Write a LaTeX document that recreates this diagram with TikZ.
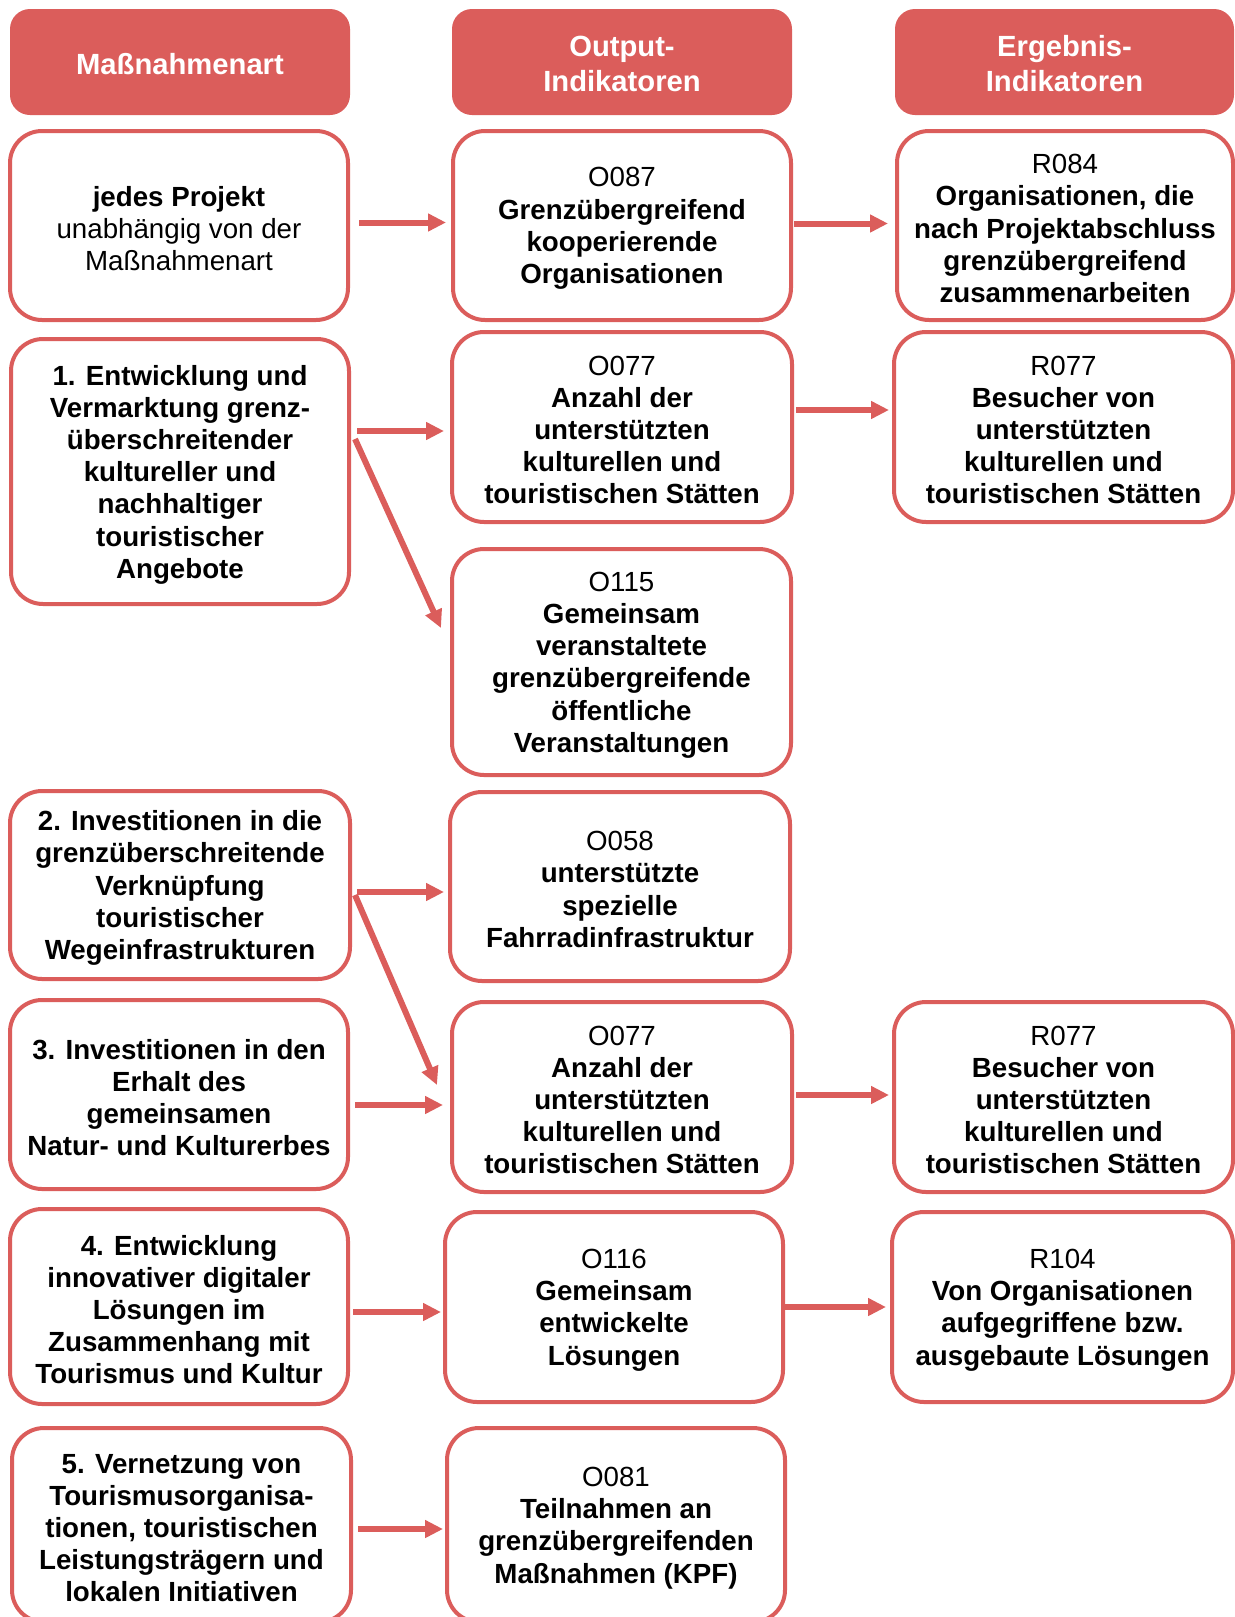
\documentclass[tikz,border=0pt]{standalone}
\usepackage{fontspec}
\setmainfont{Liberation Sans}
\usetikzlibrary{arrows.meta,calc}
\definecolor{rd}{RGB}{219,93,91}
\newcommand\mkbox[8]{\node[#1, minimum width={(#5-#3)*0.5pt}, minimum height={(#6-#4)*0.5pt}] (#2) at ({(#3+#5)/2},{(#4+#6)/2}) {};
\node[#1txt] (#2t) at ($(#2.center)+(0,#8)$) {#7};}
\begin{document}
\begin{tikzpicture}[x=0.5pt,y=-0.5pt,
 box/.style={draw=rd, line width=2pt, rounded corners=16pt, fill=white, inner sep=0pt},
 boxtxt/.style={align=center, inner sep=0pt, font=\fontsize{13.85}{16.1}\selectfont\bfseries, text=black},
 hdr/.style={fill=rd, rounded corners=10pt, inner sep=0pt},
 hdrtxt/.style={align=center, inner sep=0pt, text=white, font=\fontsize{14.6}{17.5}\selectfont\bfseries},
 arr/.style={draw=rd, line width=3pt, -{Triangle[length=9pt,width=8.5pt]}}]
\useasboundingbox (0,0) rectangle (1235,1617);
\clip (0,0) rectangle (1235,1617);
% headers
\mkbox{hdr}{h1}{10}{9}{350}{115}{Maßnahmenart}{2}
\mkbox{hdr}{h2}{452}{9}{792}{115}{Output-\\Indikatoren}{2}
\mkbox{hdr}{h3}{895}{9}{1234}{115}{Ergebnis-\\Indikatoren}{2}
% row A
\mkbox{box}{jedes}{10}{131}{348}{320}{jedes Projekt\\{\mdseries unabhängig von der}\\{\mdseries Maßnahmenart}}{3}
\mkbox{box}{o087}{453}{131}{791}{320}{{\mdseries O087}\\Grenzübergreifend\\kooperierende\\Organisationen}{3}
\mkbox{box}{r084}{897}{131}{1233}{320}{{\mdseries R084}\\Organisationen, die\\nach Projektabschluss\\grenzübergreifend\\zusammenarbeiten}{3}
% row B
\mkbox{box}{m1}{11}{339}{349}{604}{1. Entwicklung und\\Vermarktung grenz-\\überschreitender\\kultureller und\\nachhaltiger\\touristischer\\Angebote}{3}
\mkbox{box}{o077}{452}{332}{792}{522}{{\mdseries O077}\\Anzahl der\\unterstützten\\kulturellen und\\touristischen Stätten}{3}
\mkbox{box}{r077}{894}{332}{1233}{522}{{\mdseries R077}\\Besucher von\\unterstützten\\kulturellen und\\touristischen Stätten}{3}
\mkbox{box}{o115}{452}{549}{791}{775}{{\mdseries O115}\\Gemeinsam\\veranstaltete\\grenzübergreifende\\öffentliche\\Veranstaltungen}{3}
% row C
\mkbox{box}{m2}{10}{791}{350}{979}{2. Investitionen in die\\grenzüberschreitende\\Verknüpfung\\touristischer\\Wegeinfrastrukturen}{3}
\mkbox{box}{o058}{450}{792}{790}{981}{{\mdseries O058}\\unterstützte\\spezielle\\Fahrradinfrastruktur}{3}
% row D
\mkbox{box}{m3}{10}{1000}{348}{1189}{3. Investitionen in den\\Erhalt des\\gemeinsamen\\Natur- und Kulturerbes}{3}
\mkbox{box}{o077b}{452}{1002}{792}{1192}{{\mdseries O077}\\Anzahl der\\unterstützten\\kulturellen und\\touristischen Stätten}{3}
\mkbox{box}{r077b}{894}{1002}{1233}{1192}{{\mdseries R077}\\Besucher von\\unterstützten\\kulturellen und\\touristischen Stätten}{3}
% row E
\mkbox{box}{m4}{10}{1209}{348}{1404}{4. Entwicklung\\innovativer digitaler\\Lösungen im\\Zusammenhang mit\\Tourismus und Kultur}{3}
\mkbox{box}{o116}{445}{1212}{783}{1402}{{\mdseries O116}\\Gemeinsam\\entwickelte\\Lösungen}{3}
\mkbox{box}{r104}{892}{1212}{1233}{1402}{{\mdseries R104}\\Von Organisationen\\aufgegriffene bzw.\\ausgebaute Lösungen}{3}
% row F
\mkbox{box}{m5}{12}{1428}{351}{1622}{5. Vernetzung von\\Tourismusorganisa-\\tionen, touristischen\\Leistungsträgern und\\lokalen Initiativen}{3}
\mkbox{box}{o081}{447}{1428}{785}{1622}{{\mdseries O081}\\Teilnahmen an\\grenzübergreifenden\\Maßnahmen (KPF)}{3}
% arrows
\draw[arr] ($(jedes.east)+(9,-3)$) -- ($(o087.west)+(-5,-3)$);
\draw[arr] ($(o087.east)+(1,-2)$) -- ($(r084.west)+(-7,-2)$);
\draw[arr] ($(m1.east)+(6,-40.5)$) -- ($(o077.west)+(-6,4)$);
\draw[arr] ($(m1.east)+(4,-32.5)$) -- ($(o115.west)+(-9,-34)$);
\draw[arr] ($(o077.east)+(2,-17)$) -- ($(r077.west)+(-3,-17)$);
\draw[arr] ($(m2.east)+(5,7)$) -- ($(o058.west)+(-4,5.5)$);
\draw[arr] ($(m2.east)+(3,10)$) -- ($(o077b.west)+(-13,-12)$);
\draw[arr] ($(m3.east)+(5,10.5)$) -- ($(o077b.west)+(-7,8)$);
\draw[arr] ($(o077b.east)+(2,-2)$) -- ($(r077b.west)+(-3,-2)$);
\draw[arr] ($(m4.east)+(3,5.5)$) -- ($(o116.west)+(-2,5)$);
\draw[arr] (o116.east) -- ($(r104.west)+(-4,0)$);
\draw[arr] ($(m5.east)+(5,4)$) -- ($(o081.west)+(-2,4)$);
\end{tikzpicture}
\end{document}
